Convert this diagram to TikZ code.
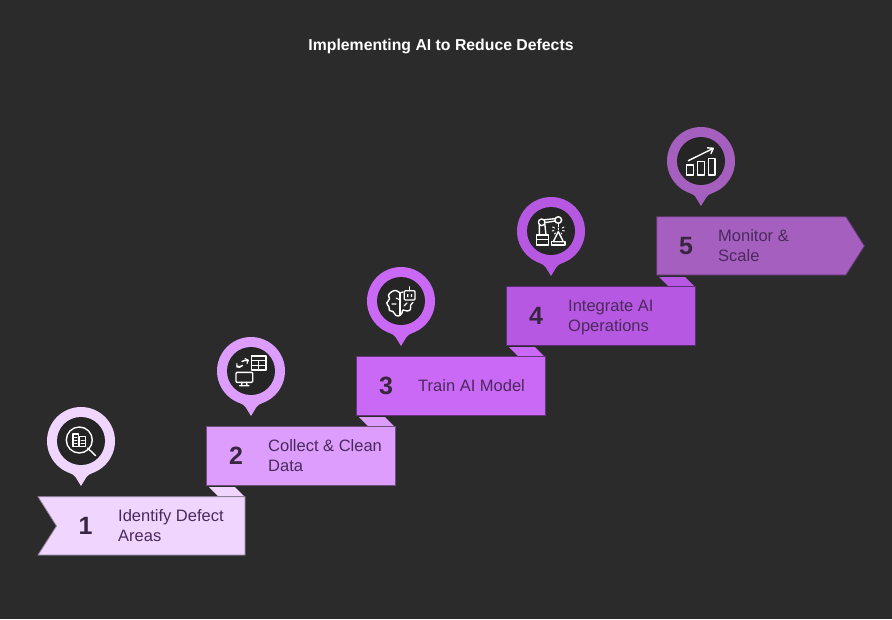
\documentclass[tikz,border=0pt]{standalone}
\usepackage{fontspec}
\setmainfont{Liberation Sans}
\definecolor{bgc}{HTML}{2B2B2B}
\definecolor{holec}{HTML}{252525}
\definecolor{ca}{HTML}{F0D5FE}
\definecolor{cb}{HTML}{DD9DFD}
\definecolor{cc}{HTML}{CB69F7}
\definecolor{cd}{HTML}{B658E2}
\definecolor{ce}{HTML}{A45FBF}
\definecolor{txt}{HTML}{4A2A5C}
\definecolor{num}{HTML}{38263F}
\tikzset{
  x=1pt,y=-1pt,
  ribbon/.style={line width=0.8pt,line join=miter},
  fold/.style={draw=none},
  numlabel/.style={anchor=center,inner sep=0pt,text=num,font=\fontsize{25}{25}\selectfont\bfseries},
  steplabel/.style={anchor=west,inner sep=0pt,text=txt,align=left,font=\fontsize{16.5}{20}\selectfont},
  titlelabel/.style={anchor=center,inner sep=0pt,text=white,font=\fontsize{15.8}{20}\selectfont\bfseries},
  icon/.style={draw=white,line width=1.4pt,line join=round,line cap=round,fill=none}
}
% pin: centre x, y, colour
\newcommand{\mypin}[3]{%
  \fill[#3] (#1,#2) circle[radius=34];
  \fill[#3] ({#1-11},{#2+32}) .. controls ({#1-8},{#2+33.5}) and ({#1-6.5},{#2+34.5}) .. ({#1-5.5},{#2+36}) -- ({#1},{#2+45}) -- ({#1+5.5},{#2+36}) .. controls ({#1+6.5},{#2+34.5}) and ({#1+8},{#2+33.5}) .. ({#1+11},{#2+32}) -- cycle;
  \fill[holec] (#1,#2) circle[radius=24];
}
\begin{document}
\begin{tikzpicture}
\useasboundingbox (0,0) rectangle (892,619);
\fill[bgc] (0,0) rectangle (892,619);
\node[titlelabel] (title) at (441,46.5) {Implementing AI to Reduce Defects};

% folds
\fill[ca,fold] (209,487) -- (235,487) -- (244,496) -- (218,496) -- cycle;
\fill[cb,fold] (359,417) -- (385,417) -- (394,426) -- (368,426) -- cycle;
\fill[cc,fold] (509,347) -- (535,347) -- (544,356) -- (518,356) -- cycle;
\fill[cd,fold] (659,277) -- (685,277) -- (694,286) -- (668,286) -- cycle;

% ribbons
\draw[ribbon,fill=ca,draw=ca!62!black] (38,496.7) -- (245,496.7) -- (245,555) -- (38,555) -- (56.5,526) -- cycle;
\draw[ribbon,fill=cb,draw=cb!50!black] (206.7,426.7) rectangle (395,485);
\draw[ribbon,fill=cc,draw=cc!50!black] (356.7,356.7) rectangle (545,415);
\draw[ribbon,fill=cd,draw=cd!50!black] (506.7,286.7) rectangle (695,345);
\draw[ribbon,fill=ce,draw=ce!55!black] (656.7,216.7) -- (846,216.7) -- (864.5,246) -- (846,275) -- (656.7,275) -- cycle;

% numbers and labels
\node[numlabel] (n1) at (85.5,526) {1};
\node[numlabel] (n2) at (236,456) {2};
\node[numlabel] (n3) at (386,386) {3};
\node[numlabel] (n4) at (536,316) {4};
\node[numlabel] (n5) at (686,246) {5};
\node[steplabel] (t1) at (118,527.5) {\strut Identify Defect\\\strut Areas};
\node[steplabel] (t2) at (268,457.5) {\strut Collect \& Clean\\\strut Data};
\node[steplabel] (t3) at (418,387.5) {\strut Train AI Model};
\node[steplabel] (t4) at (568,317.5) {\strut Integrate AI\\\strut Operations};
\node[steplabel] (t5) at (718,247.5) {\strut Monitor \&\\\strut Scale};

% pins
\mypin{81}{441}{ca}
\mypin{251}{371}{cb}
\mypin{401}{301}{cc}
\mypin{551}{231}{cd}
\mypin{701}{161}{ce}

% icon 1: magnifier over plant
\draw[icon] (79.3,440) circle[radius=13];
\draw[icon] (87.6,448) -- (95.7,455.7);
\draw[icon,line width=1.1pt] (73,434) rectangle (78.6,446.5);
\draw[icon,line width=1.1pt] (79.6,436.8) rectangle (85.8,446.5);
\draw[icon,line width=0.8pt] (74.5,437.5) -- (77,437.5) (74.5,440.5) -- (77,440.5) (74.5,443.5) -- (77,443.5) (81,440) -- (84.5,440) (81,443) -- (84.5,443);

% icon 2: table, monitor, swap arrows
\draw[icon] (251.7,356) rectangle (266,370);
\draw[icon,line width=1.1pt] (251.7,360.5) -- (266,360.5) (251.7,365.2) -- (266,365.2) (258.8,360.5) -- (258.8,370);
\draw[icon,rounded corners=1pt] (236,372.3) rectangle (252.7,382.3);
\draw[icon] (242,382.3) -- (241.5,385.7) (246.5,382.3) -- (247,385.7) (239.5,385.7) -- (249,385.7);
\draw[icon] (237,366) .. controls (238.5,367.5) and (241,367) .. (242.5,365.5);
\draw[icon] (242,361.5) .. controls (244,360) and (246,360) .. (247.8,360.8);
\draw[icon,line width=1.1pt] (236.8,363.5) -- (236.8,367) -- (240,367.3);
\draw[icon,line width=1.1pt] (245,358.5) -- (248.3,360.2) -- (247,363.5);

% icon 3: brain and robot head
\draw[icon] plot[smooth,tension=0.6] coordinates {(400,293) (396,290.5) (392,291.5) (388.5,295) (389.5,299) (386.8,303) (389,307) (389.5,310.5) (393,311.5) (396,315.5) (400,315.5) (402,313) (403,310) (407,311) (410.5,309.5) (410.5,305.5) (413,302.5)};
\draw[icon] (400,293) -- (400,315.5);
\draw[icon] (403,292) -- (400,293);
\draw[icon,line width=1.1pt] (400,300) -- (396,298) (392,304) -- (396,304) (404,306) -- (407,303);
\draw[icon,line width=1.2pt,rounded corners=1pt] (404.3,290.7) rectangle (415,300);
\draw[icon,line width=1.2pt] (409.6,290.7) -- (409.6,286.8);
\fill[white] (407,294) rectangle (408.4,297) (410.8,294) rectangle (412.2,297);

% icon 4: robot arm and cone
\draw[icon] (536.7,235) rectangle (548.3,245);
\draw[icon] (536.7,239.5) -- (548.3,239.5);
\draw[icon] (539.3,235) -- (539.3,225) (546,235) -- (544.8,224);
\draw[icon] (541.7,222.3) circle[radius=3.3];
\draw[icon] (558.3,220) circle[radius=3.3];
\draw[icon] (544.2,219.8) -- (555.2,218.6) (545,222.6) -- (555.2,221);
\draw[icon] (558.3,223.3) -- (558.3,226.5);
\draw[icon] (558.3,231.5) -- (553.3,241.7) -- (563.3,241.7) -- cycle;
\draw[icon] (551.7,241.7) rectangle (565,245);
\draw[icon,line width=0.9pt] (552.5,227) -- (554.5,228) (564,227) -- (562,228) (552,231) -- (554,230.5) (564.5,231) -- (562.5,230.5) (558.3,228) -- (558.3,229.5) (554.5,234) -- (555.5,233) (562,234) -- (561,233);

% icon 5: growth chart
\draw[icon] (688.3,160.7) -- (713,148.5);
\draw[icon] (707.5,147.8) -- (713.3,148.3) -- (711,153.5);
\draw[icon] (686.7,165) rectangle (693.3,175);
\draw[icon] (697.7,161.7) rectangle (704.3,175);
\draw[icon] (708.7,158.3) rectangle (715,175);
\end{tikzpicture}
\end{document}
